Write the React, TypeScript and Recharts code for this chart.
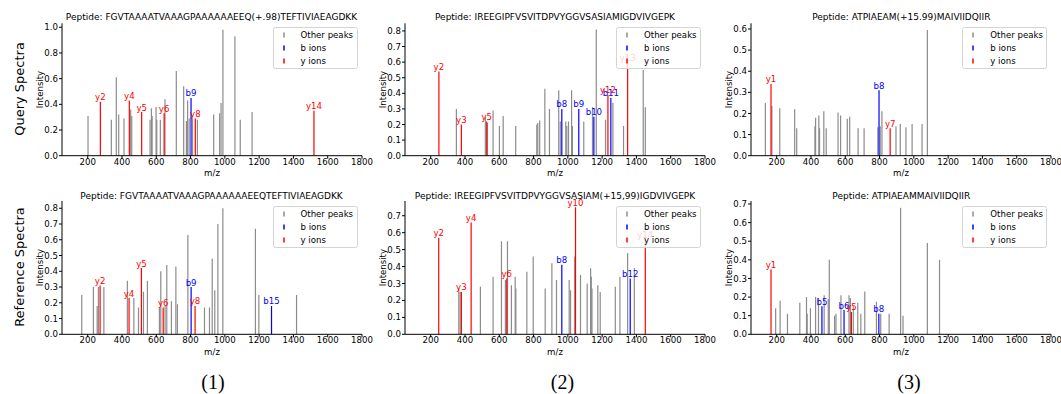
import React from "react";
import { BarChart, Bar, XAxis, YAxis, LabelList } from "recharts";

type Peak = [number, number];
type Ion = [string, number, number];

const MZ_TICKS = [200, 400, 600, 800, 1000, 1200, 1400, 1600, 1800];

// Query 1 - FGVTAAAATVAAAGPAAAAAAEEQ(+.98)TEFTIVIAEAGDKK
const q1Title = "Peptide: FGVTAAAATVAAAGPAAAAAAEEQ(+.98)TEFTIVIAEAGDKK";
const q1Other: Peak[] = [
  [202, 0.31], [338, 0.28], [367, 0.61], [381, 0.32], [412, 0.29], [451, 0.36], [457, 0.31],
  [564, 0.28], [572, 0.37], [576, 0.31], [599, 0.38], [603, 0.28], [624, 0.28], [651, 0.44],
  [717, 0.66], [760, 0.54], [776, 0.27], [783, 0.43], [792, 0.29], [812, 0.29], [840, 0.28],
  [935, 0.32], [970, 0.33], [978, 0.41], [989, 0.98], [1059, 0.93], [1090, 0.28], [1159, 0.34],
];
const q1B: Ion[] = [["b9", 803, 0.45]];
const q1Y: Ion[] = [
  ["y2", 274, 0.42], ["y4", 443, 0.43], ["y5", 515, 0.34], ["y6", 646, 0.33], ["y8", 828, 0.29], ["y14", 1520, 0.35],
];
const q1Ticks = [0, 0.2, 0.4, 0.6, 0.8, 1.0];

// Query 2 - IREEGIPFVSVITDPVYGGVSASIAMIGDVIVGEPK
const q2Title = "Peptide: IREEGIPFVSVITDPVYGGVSASIAMIGDVIVGEPK";
const q2Other: Peak[] = [
  [350, 0.3], [519, 0.25], [531, 0.21], [564, 0.29], [601, 0.19], [623, 0.255], [696, 0.19],
  [819, 0.2], [825, 0.21], [836, 0.225], [866, 0.43], [893, 0.3], [947, 0.42], [956, 0.22],
  [988, 0.22], [994, 0.19], [1004, 0.22], [1022, 0.42], [1027, 0.19], [1093, 0.22], [1144, 0.31],
  [1166, 0.81], [1220, 0.23], [1263, 0.34], [1325, 0.19], [1440, 0.55], [1452, 0.31],
];
const q2B: Ion[] = [["b8", 965, 0.3], ["b9", 1064, 0.3], ["b10", 1152, 0.25], ["b11", 1251, 0.37]];
const q2Y: Ion[] = [["y2", 248, 0.54], ["y3", 379, 0.2], ["y5", 527, 0.22], ["y12", 1234, 0.39], ["y13", 1349, 0.6]];
const q2Ticks = [0, 0.1, 0.2, 0.3, 0.4, 0.5, 0.6, 0.7, 0.8];

// Query 3 - ATPIAEAM(+15.99)MAIVIIDQIIR
const q3Title = "Peptide: ATPIAEAM(+15.99)MAIVIIDQIIR";
const q3Other: Peak[] = [
  [134, 0.25], [172, 0.235], [218, 0.225], [305, 0.22], [317, 0.13], [423, 0.14], [427, 0.18],
  [446, 0.19], [450, 0.13], [475, 0.21], [489, 0.13], [558, 0.205], [573, 0.19], [612, 0.175],
  [626, 0.185], [675, 0.13], [710, 0.13], [790, 0.135], [804, 0.14], [814, 0.21], [896, 0.14],
  [921, 0.15], [954, 0.135], [990, 0.15], [1048, 0.15], [1079, 0.595],
];
const q3B: Ion[] = [["b8", 797, 0.31]];
const q3Y: Ion[] = [["y1", 167, 0.34], ["y7", 862, 0.13]];
const q3Ticks = [0, 0.1, 0.2, 0.3, 0.4, 0.5, 0.6];

// Reference 1 - FGVTAAAATVAAAGPAAAAAAEEQTEFTIVIAEAGDKK
const r1Title = "Peptide: FGVTAAAATVAAAGPAAAAAAEEQTEFTIVIAEAGDKK";
const r1Other: Peak[] = [
  [167, 0.25], [235, 0.3], [257, 0.18], [264, 0.3], [296, 0.3], [433, 0.34], [471, 0.23],
  [498, 0.17], [527, 0.27], [550, 0.34], [620, 0.17], [628, 0.4], [653, 0.18], [663, 0.44],
  [690, 0.21], [716, 0.43], [725, 0.19], [786, 0.63], [883, 0.17], [912, 0.17], [928, 0.48],
  [943, 0.28], [961, 0.7], [990, 0.8], [1180, 0.67], [1200, 0.25], [1420, 0.25],
];
const r1B: Ion[] = [["b9", 805, 0.3], ["b15", 1274, 0.18]];
const r1Y: Ion[] = [["y2", 274, 0.31], ["y4", 443, 0.23], ["y5", 515, 0.42], ["y6", 642, 0.17], ["y8", 828, 0.18]];
const r1Ticks = [0, 0.1, 0.2, 0.3, 0.4, 0.5, 0.6, 0.7, 0.8];

// Reference 2 - IREEGIPFVSVITDPVYGGVSASIAM(+15,99)IGDVIVGEPK
const r2Title = "Peptide: IREEGIPFVSVITDPVYGGVSASIAM(+15,99)IGDVIVGEPK";
const r2Other: Peak[] = [
  [364, 0.27], [372, 0.25], [490, 0.28], [564, 0.34], [613, 0.55], [636, 0.32], [648, 0.55],
  [671, 0.29], [693, 0.34], [697, 0.27], [761, 0.37], [798, 0.46], [868, 0.27], [907, 0.42],
  [934, 0.32], [1008, 0.32], [1016, 0.26], [1040, 0.46], [1074, 0.35], [1113, 0.3], [1133, 0.39],
  [1137, 0.34], [1141, 0.27], [1175, 0.29], [1189, 0.25], [1277, 0.28], [1304, 0.34], [1349, 0.48],
  [1388, 0.39],
];
const r2B: Ion[] = [["b8", 965, 0.41], ["b12", 1364, 0.33]];
const r2Y: Ion[] = [
  ["y2", 247, 0.57], ["y3", 379, 0.25], ["y4", 436, 0.66], ["y6", 644, 0.33], ["y10", 1045, 0.75], ["y14", 1452, 0.56],
];
const r2Ticks = [0, 0.1, 0.2, 0.3, 0.4, 0.5, 0.6, 0.7];

// Reference 3 - ATPIAEAMMAIVIIDQIIR
const r3Title = "Peptide: ATPIAEAMMAIVIIDQIIR";
const r3Other: Peak[] = [
  [194, 0.14], [220, 0.18], [263, 0.11], [335, 0.17], [374, 0.2], [378, 0.11], [397, 0.14],
  [427, 0.2], [444, 0.195], [477, 0.21], [501, 0.19], [507, 0.4], [538, 0.1], [546, 0.11],
  [575, 0.21], [622, 0.21], [630, 0.195], [647, 0.15], [673, 0.17], [691, 0.11], [714, 0.23],
  [782, 0.175], [807, 0.11], [856, 0.11], [923, 0.68], [937, 0.1], [1079, 0.49], [1150, 0.4],
];
const r3B: Ion[] = [["b5", 464, 0.15], ["b6", 593, 0.13], ["b8", 796, 0.11]];
const r3Y: Ion[] = [["y1", 167, 0.35], ["y5", 636, 0.12]];
const r3Ticks = [0, 0.1, 0.2, 0.3, 0.4, 0.5, 0.6, 0.7];

const GREY = "#8c8c8c";
const BLUE = "#0000ff";
const RED = "#ff0000";
const FONT = "'DejaVu Sans', sans-serif";

const LEGEND_ITEMS: [string, string][] = [
  ["Other peaks", GREY],
  ["b ions", BLUE],
  ["y ions", RED],
];

const ROWS = [
  { top: 0, marginTop: 23.3, xAxisHeight: 24.3, mzOffset: 4.3, titleY: 16.7, legendTop: 27.3 },
  { top: 180, marginTop: 21, xAxisHeight: 25.7, mzOffset: 5.3, titleY: 15.7, legendTop: 26 },
];

const panels = [
  { title: q1Title, other: q1Other, b: q1B, y: q1Y, yMax: 1.031, yTicks: q1Ticks, left: 21.5, row: 0 },
  { title: q2Title, other: q2Other, b: q2B, y: q2Y, yMax: 0.849, yTicks: q2Ticks, left: 365, row: 0 },
  { title: q3Title, other: q3Other, b: q3B, y: q3Y, yMax: 0.627, yTicks: q3Ticks, left: 711.3, row: 0 },
  { title: r1Title, other: r1Other, b: r1B, y: r1Y, yMax: 0.846, yTicks: r1Ticks, left: 21.5, row: 1 },
  { title: r2Title, other: r2Other, b: r2B, y: r2Y, yMax: 0.787, yTicks: r2Ticks, left: 365, row: 1 },
  { title: r3Title, other: r3Other, b: r3B, y: r3Y, yMax: 0.716, yTicks: r3Ticks, left: 711.3, row: 1 },
];

const buildRows = (other: Peak[], b: Ion[], y: Ion[]) =>
  [
    ...other.map(([mz, v]) => ({ mz, other: v })),
    ...b.map(([lab, mz, v]) => ({ mz, b: v, bLab: lab })),
    ...y.map(([lab, mz, v]) => ({ mz, y: v, yLab: lab })),
  ].sort((p, q) => p.mz - q.mz);

// draw each peak as a thin stick centred on its m/z
const Stick = (props: any) => {
  const { x, y, width, height, fill } = props;
  if (!height || !isFinite(y)) return null;
  const cx = x + width / 2;
  return <line x1={cx} x2={cx} y1={y} y2={y + height} stroke={fill} strokeWidth={1.2} />;
};

function LegendBox({ left, top }: { left: number; top: number }) {
  return (
    <div
      style={{
        position: "absolute", left, top, width: 85, height: 42, boxSizing: "border-box",
        border: "1px solid #d4d4d4", borderRadius: 2.5, background: "rgba(255,255,255,0.8)",
      }}
    >
      {LEGEND_ITEMS.map(([name, color], i) => (
        <div key={name} style={{ position: "absolute", left: 0, top: 1 + i * 12.9, width: "100%", height: 12, fontSize: 8.6, lineHeight: "12px" }}>
          <svg width={4} height={12} style={{ position: "absolute", left: 8, top: 0 }}>
            <line x1={2} x2={2} y1={3.5} y2={8.5} stroke={color} strokeWidth={1.5} />
          </svg>
          <span style={{ position: "absolute", left: 27, whiteSpace: "nowrap" }}>{name}</span>
        </div>
      ))}
    </div>
  );
}

function SpectrumPanel({ p }: { p: (typeof panels)[number] }) {
  const g = ROWS[p.row];
  const data = buildRows(p.other, p.b, p.y);
  return (
    <div style={{ position: "absolute", left: p.left, top: g.top, width: 360, height: 180 }}>
      <BarChart width={360} height={180} data={data} barSize={0.6} margin={{ top: g.marginTop, right: 20, bottom: 0, left: 0 }}>
        <XAxis
          dataKey="mz" type="number" domain={[50, 1800]} ticks={MZ_TICKS} allowDataOverflow interval={0}
          height={g.xAxisHeight} tickSize={3} tickMargin={0}
          axisLine={{ stroke: "#000" }} tickLine={{ stroke: "#000" }}
          tick={{ fill: "#000", fontSize: 8.6 }}
          label={{ value: "m/z", position: "insideBottom", offset: g.mzOffset, fill: "#000", fontSize: 8.6 }}
        />
        <YAxis
          type="number" domain={[0, p.yMax]} ticks={p.yTicks} allowDataOverflow interval={0} width={40}
          tickSize={3} tickMargin={1} tickFormatter={(v: number) => v.toFixed(1)}
          axisLine={{ stroke: "#000" }} tickLine={{ stroke: "#000" }}
          tick={{ fill: "#000", fontSize: 8.6 }}
          label={{ value: "Intensity", angle: -90, position: "insideLeft", offset: 18, textAnchor: "middle", fill: "#000", fontSize: 8.6 }}
        />
        <Bar dataKey="other" stackId="s" fill={GREY} shape={Stick} isAnimationActive={false} />
        <Bar dataKey="b" stackId="s" fill={BLUE} shape={Stick} isAnimationActive={false}>
          <LabelList dataKey="bLab" position="top" offset={1.5} fill={BLUE} fontSize={8.6} />
        </Bar>
        <Bar dataKey="y" stackId="s" fill={RED} shape={Stick} isAnimationActive={false}>
          <LabelList dataKey="yLab" position="top" offset={1.5} fill={RED} fontSize={8.6} />
        </Bar>
      </BarChart>
      <div
        style={{
          position: "absolute", left: -20, width: 420, top: g.titleY - 6, height: 12, lineHeight: "12px",
          textAlign: "center", fontSize: 9, whiteSpace: "nowrap", color: "#000",
        }}
      >
        {p.title}
      </div>
      <LegendBox left={251} top={g.legendTop} />
    </div>
  );
}

export default function App() {
  return (
    <div style={{ position: "absolute", left: 0, top: 0, width: 1061, height: 394, background: "#fff", fontFamily: FONT, overflow: "hidden" }}>
      {panels.map((p, i) => (
        <SpectrumPanel key={i} p={p} />
      ))}
      <svg width={1061} height={394} style={{ position: "absolute", left: 0, top: 0, pointerEvents: "none" }}>
        <text transform="translate(19.5,89) rotate(-90)" textAnchor="middle" dominantBaseline="central" fontSize={13} fontFamily={FONT}>
          Query Spectra
        </text>
        <text transform="translate(19,267) rotate(-90)" textAnchor="middle" dominantBaseline="central" fontSize={13} fontFamily={FONT}>
          Reference Spectra
        </text>
        <text x={213} y={382} textAnchor="middle" dominantBaseline="central" fontSize={20} fontFamily="'Liberation Serif', serif">(1)</text>
        <text x={562.5} y={382} textAnchor="middle" dominantBaseline="central" fontSize={20} fontFamily="'Liberation Serif', serif">(2)</text>
        <text x={909} y={382} textAnchor="middle" dominantBaseline="central" fontSize={20} fontFamily="'Liberation Serif', serif">(3)</text>
      </svg>
    </div>
  );
}
